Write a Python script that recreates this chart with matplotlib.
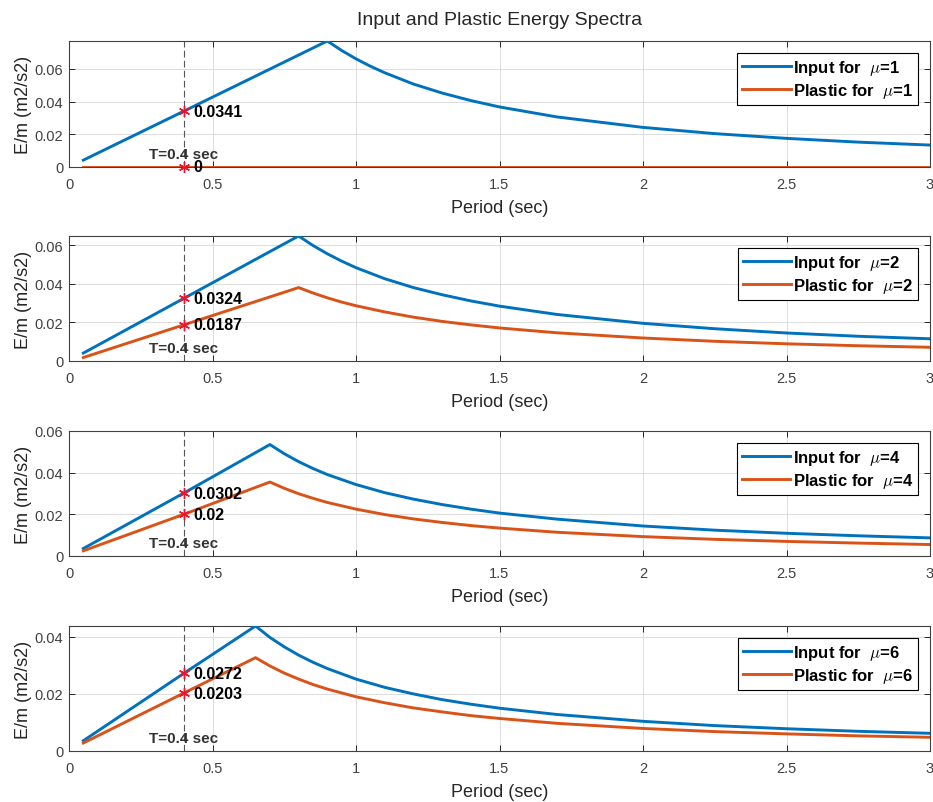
import matplotlib
matplotlib.use("Agg")
import matplotlib.pyplot as plt
import matplotlib.transforms as mtransforms

plt.rcParams['font.family'] = ['Liberation Sans', 'DejaVu Sans']
plt.rcParams['mathtext.fontset'] = 'cm'

# ---------------- data ----------------
mu_values = [1, 2, 4, 6]
T_mark = 0.4

period_1 = [0.05, 0.4, 0.9, 0.95, 1.0, 1.05, 1.1, 1.2, 1.3, 1.4, 1.5, 1.7, 2.0, 2.25, 2.5, 2.75, 3.0]
input_1 = [0.0042, 0.0341, 0.0770, 0.0712, 0.0661, 0.0616, 0.0576, 0.0507, 0.0452, 0.0406, 0.0367,
           0.0306, 0.0242, 0.0204, 0.0175, 0.0152, 0.0134]
plastic_1 = [0.0] * len(period_1)

period_2 = [0.05, 0.4, 0.8, 0.85, 0.9, 0.95, 1.0, 1.1, 1.2, 1.3, 1.4, 1.5, 1.7, 2.0, 2.25, 2.5, 2.75, 3.0]
input_2 = [0.0041, 0.0324, 0.0647, 0.0598, 0.0555, 0.0517, 0.0483, 0.0426, 0.0380, 0.0343, 0.0311,
           0.0284, 0.0241, 0.0195, 0.0167, 0.0145, 0.0128, 0.0115]
plastic_2 = [0.0018, 0.0187, 0.0380, 0.0352, 0.0327, 0.0305, 0.0286, 0.0254, 0.0227, 0.0205, 0.0187,
             0.0171, 0.0146, 0.0119, 0.0102, 0.0089, 0.0079, 0.0071]

period_3 = [0.05, 0.4, 0.7, 0.75, 0.8, 0.85, 0.9, 1.0, 1.1, 1.2, 1.3, 1.4, 1.5, 1.7, 2.0, 2.25, 2.5, 2.75, 3.0]
input_3 = [0.0036, 0.0302, 0.0535, 0.0491, 0.0453, 0.0420, 0.0391, 0.0343, 0.0304, 0.0273, 0.0247,
           0.0225, 0.0206, 0.0177, 0.0144, 0.0124, 0.0109, 0.0097, 0.0087]
plastic_3 = [0.0025, 0.0200, 0.0355, 0.0325, 0.0299, 0.0277, 0.0257, 0.0225, 0.0199, 0.0178, 0.0161,
             0.0146, 0.0134, 0.0114, 0.0093, 0.0080, 0.0070, 0.0062, 0.0055]

period_4 = [0.05, 0.4, 0.65, 0.7, 0.75, 0.8, 0.85, 0.9, 1.0, 1.1, 1.2, 1.3, 1.4, 1.5, 1.7, 2.0, 2.25,
            2.5, 2.75, 3.0]
input_4 = [0.0036, 0.0272, 0.0438, 0.0398, 0.0365, 0.0336, 0.0311, 0.0289, 0.0252, 0.0223, 0.0200,
           0.0180, 0.0164, 0.0150, 0.0128, 0.0104, 0.0089, 0.0078, 0.0069, 0.0062]
plastic_4 = [0.0028, 0.0203, 0.0327, 0.0298, 0.0273, 0.0252, 0.0233, 0.0217, 0.0190, 0.0169, 0.0151,
             0.0137, 0.0124, 0.0114, 0.0097, 0.0079, 0.0068, 0.0060, 0.0053, 0.0048]

mark_input = [0.0341, 0.0324, 0.0302, 0.0272]
mark_plastic = [0.0, 0.0187, 0.02, 0.0203]
mark_input_labels = ['0.0341', '0.0324', '0.0302', '0.0272']
mark_plastic_labels = ['0', '0.0187', '0.02', '0.0203']

y_top = [0.077, 0.0647, 0.06, 0.0438]
y_ticks = [[0, 0.02, 0.04, 0.06], [0, 0.02, 0.04, 0.06], [0, 0.02, 0.04, 0.06], [0, 0.02, 0.04]]
y_ticklabels = [['0', '0.02', '0.04', '0.06'], ['0', '0.02', '0.04', '0.06'],
                ['0', '0.02', '0.04', '0.06'], ['0', '0.02', '0.04']]
x_ticks = [0, 0.5, 1, 1.5, 2, 2.5, 3]
x_ticklabels = ['0', '0.5', '1', '1.5', '2', '2.5', '3']

periods = [period_1, period_2, period_3, period_4]
inputs = [input_1, input_2, input_3, input_4]
plastics = [plastic_1, plastic_2, plastic_3, plastic_4]

# ---------------- figure ----------------
W, H = 933, 803
fig = plt.figure(figsize=(W / 100, H / 100), dpi=100)

blue = '#0072BD'
orange = '#D95319'
axis_col = '#262626'

ax_px = [(42, 168), (237, 362), (432, 557), (627, 752)]
left_px, right_px = 69, 930

for i in range(4):
    top, bot = ax_px[i]
    ax = fig.add_axes([left_px / W, 1 - bot / H, (right_px - left_px) / W, (bot - top) / H])
    ax.plot(periods[i], inputs[i], color=blue, lw=2.1, label=r'Input for  $\mu$=%d' % mu_values[i], zorder=3)
    ax.plot(periods[i], plastics[i], color=orange, lw=2.1, label=r'Plastic for  $\mu$=%d' % mu_values[i], zorder=3)
    ax.set_xlim(0, 3)
    ax.set_ylim(0, y_top[i])
    ax.set_xticks(x_ticks)
    ax.set_xticklabels(x_ticklabels)
    ax.set_yticks(y_ticks[i])
    ax.set_yticklabels(y_ticklabels[i])
    ax.grid(True, color='#dcdcdc', lw=0.7)
    ax.set_axisbelow(True)
    ax.tick_params(direction='in', top=True, right=True, length=4, width=0.7,
                   colors=axis_col, labelsize=10.5, labelcolor='#404040')
    ax.tick_params(axis='x', pad=7)
    ax.tick_params(axis='y', pad=4)
    for sp in ax.spines.values():
        sp.set_color('#404040')
        sp.set_linewidth(0.8)
    ax.set_xlabel('Period (sec)', fontsize=13, color='#262626', labelpad=6)
    ax.set_ylabel('E/m (m2/s2)', fontsize=13, color='#262626', labelpad=2)

    # vertical dashed line at T=0.4
    ax.axvline(T_mark, color='#555555', lw=0.8, ls=(0, (6, 3)), zorder=2)
    # markers
    ax.plot([T_mark, T_mark], [mark_input[i], mark_plastic[i]], ls='none',
            marker=(6, 2, 0), ms=8, mec='#e8162e', mew=1.0, zorder=4, clip_on=False)
    for val, lab in ((mark_input[i], mark_input_labels[i]), (mark_plastic[i], mark_plastic_labels[i])):
        ax.annotate(lab, xy=(T_mark, val), xytext=(7, 0), textcoords='offset points',
                    fontsize=11.5, fontweight='bold', color='black', va='center', ha='left', zorder=5)
    trans = mtransforms.blended_transform_factory(ax.transData, ax.transAxes)
    ax.text(T_mark, 0.105, 'T=0.4 sec', transform=trans, fontsize=11, fontweight='bold',
            color='#333333', ha='center', va='center', zorder=5)

    leg = ax.legend(loc='upper right', prop={'weight': 'bold', 'size': 12},
                    handlelength=2.9, handletextpad=0.15, borderpad=0.3, labelspacing=0.25,
                    fancybox=False, framealpha=1, edgecolor='black', borderaxespad=0.7)
    leg.get_frame().set_linewidth(0.8)
    if i == 0:
        ax.set_title('Input and Plastic Energy Spectra', fontsize=14, color='#262626', pad=12)

fig.savefig('out.png', dpi=100)
